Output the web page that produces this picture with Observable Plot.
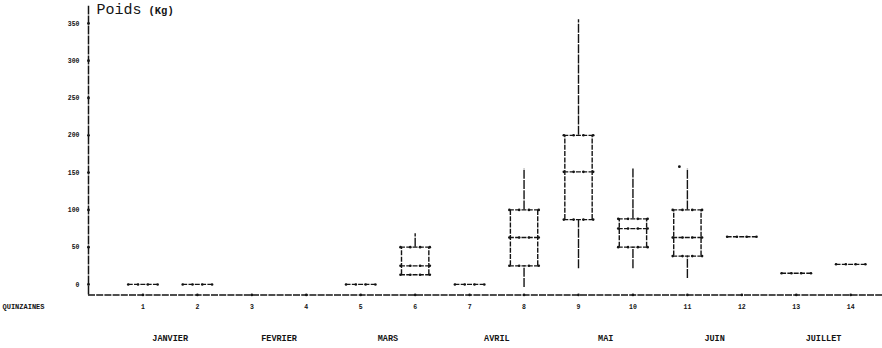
<!DOCTYPE html>
<html><head><meta charset="utf-8">
<script src="https://cdn.jsdelivr.net/npm/d3@7"></script>
<script src="https://cdn.jsdelivr.net/npm/@observablehq/plot@0.6"></script>
<style>body{margin:0;background:#fff} svg{display:block;background:#fff}</style>
</head><body><div id="chart"></div>
<script>
// ---- data ----
const quinzaines = [1,2,3,4,5,6,7,8,9,10,11,12,13,14];
const quinzaineLabels = ["1","2","3","4","5","6","7","8","9","10","11","12","13","14"];
const monthNames = ["JANVIER","FEVRIER","MARS","AVRIL","MAI","JUIN","JUILLET"];
const monthCenters = [1.5,3.5,5.5,7.5,9.5,11.5,13.5];
const yTicks = [0,50,100,150,200,250,300,350];

// box plots (Poids, Kg)
const boxQuinzaine = [6,8,9,10,11];
const boxLow    = [13,-4,21,21,8];
const boxQ1     = [13,25,87,50,38];
const boxMedian = [25,63,151,75,63];
const boxQ3     = [50,100,200,88,100];
const boxHigh   = [68,155,355,155,155];

// single-value quinzaines
const flatQuinzaine = [1,2,5,7,12,13,14];
const flatValue     = [0,0,0,0,64,15,27];

// outlier
const outlierQuinzaine = [11];
const outlierValue = [158];

// ---- derived tables ----
const boxes = boxQuinzaine.map((q,i)=>({q, lo:boxLow[i], q1:boxQ1[i], med:boxMedian[i], q3:boxQ3[i], hi:boxHigh[i]}));
const hLines = [];
boxes.forEach(b=>{ [b.q1,b.med,b.q3].forEach(v=>hLines.push({q:b.q, v})); });
flatQuinzaine.forEach((q,i)=>hLines.push({q, v:flatValue[i]}));
const W = 0.27;
const hDots = [];
hLines.forEach(h=>{ [-W,-W/3,W/3,W].forEach(o=>hDots.push({x:h.q+o, v:h.v})); });

const ink = "#141414";
const dash = "5,1.3";
const yBase = -14;

const chart = Plot.plot({
  width: 882, height: 348,
  marginLeft: 88, marginRight: 10, marginTop: 12.5, marginBottom: 53.6,
  x: {domain:[0,14.4], axis:null},
  y: {domain:[-14,364], axis:null},
  style: {background:"#fff"},
  marks: [
    // axes
    Plot.ruleX([0], {y1: yBase, y2: 373, stroke: ink, strokeWidth: 1.5, strokeDasharray: "9,1"}),
    Plot.ruleY([yBase], {x1: 0, x2: 14.6, stroke: ink, strokeWidth: 1.5, strokeDasharray: "7,1.2"}),
    Plot.dot(yTicks, {x: 0, y: d=>d, r: 1.4, fill: ink, stroke: null}),
    Plot.text(yTicks, {x: 0, y: d=>d, text: d=>String(d), dx: -9, textAnchor: "end",
      fontFamily: "Liberation Mono, monospace", fontSize: 6.5, fontWeight: "bold", fill: ink}),
    Plot.dot(quinzaines, {x: d=>d, y: yBase, r: 1.3, fill: ink, stroke: null}),
    Plot.text(quinzaines, {x: d=>d, y: yBase, text: (d,i)=>quinzaineLabels[i], dy: 12,
      fontFamily: "Liberation Mono, monospace", fontSize: 6.5, fontWeight: "bold", fill: ink}),
    Plot.text(monthNames, {x: (d,i)=>monthCenters[i], y: yBase, text: d=>d, dy: 43,
      fontFamily: "Liberation Mono, monospace", fontSize: 8.5, fontWeight: "bold", fill: ink,
      style: "letter-spacing:1.1px"}),
    Plot.text(["QUINZAINES"], {x: 0, y: yBase, text: d=>d, dx: -86, dy: 12, textAnchor: "start",
      fontFamily: "Liberation Mono, monospace", fontSize: 7, fontWeight: "bold", fill: ink}),
    Plot.text(["Poids"], {x: 0, y: 364, text: d=>d, dx: 8, dy: -3.5, textAnchor: "start", lineAnchor: "middle",
      fontFamily: "Liberation Mono, monospace", fontSize: 15, fill: ink}),
    Plot.text(["(Kg)"], {x: 0, y: 364, text: d=>d, dx: 60, dy: -2.5, textAnchor: "start", lineAnchor: "middle",
      fontFamily: "Liberation Mono, monospace", fontSize: 10.5, fontWeight: "bold", fill: ink}),
    // whiskers
    Plot.ruleX(boxes, {x: "q", y1: "q3", y2: "hi", stroke: ink, strokeWidth: 1.4, strokeDasharray: "9,1.2"}),
    Plot.ruleX(boxes, {x: "q", y1: "lo", y2: "q1", stroke: ink, strokeWidth: 1.4, strokeDasharray: "9,1.2"}),
    // box sides
    Plot.ruleX(boxes, {x: d=>d.q - W*0.93, y1: "q1", y2: "q3", stroke: ink, strokeWidth: 1.4, strokeDasharray: dash}),
    Plot.ruleX(boxes, {x: d=>d.q + W*0.93, y1: "q1", y2: "q3", stroke: ink, strokeWidth: 1.4, strokeDasharray: dash}),
    // horizontal lines
    Plot.ruleY(hLines, {y: "v", x1: d=>d.q - W, x2: d=>d.q + W, stroke: ink, strokeWidth: 1.3, strokeDasharray: dash}),
    Plot.dot(hDots, {x: "x", y: "v", r: 1.3, fill: ink, stroke: null}),
    // outlier
    Plot.dot(outlierQuinzaine, {x: d=>d, y: (d,i)=>outlierValue[i], dx: -8, r: 1.4, fill: ink, stroke: null})
  ]
});
document.getElementById("chart").append(chart);
</script>
</body></html>
